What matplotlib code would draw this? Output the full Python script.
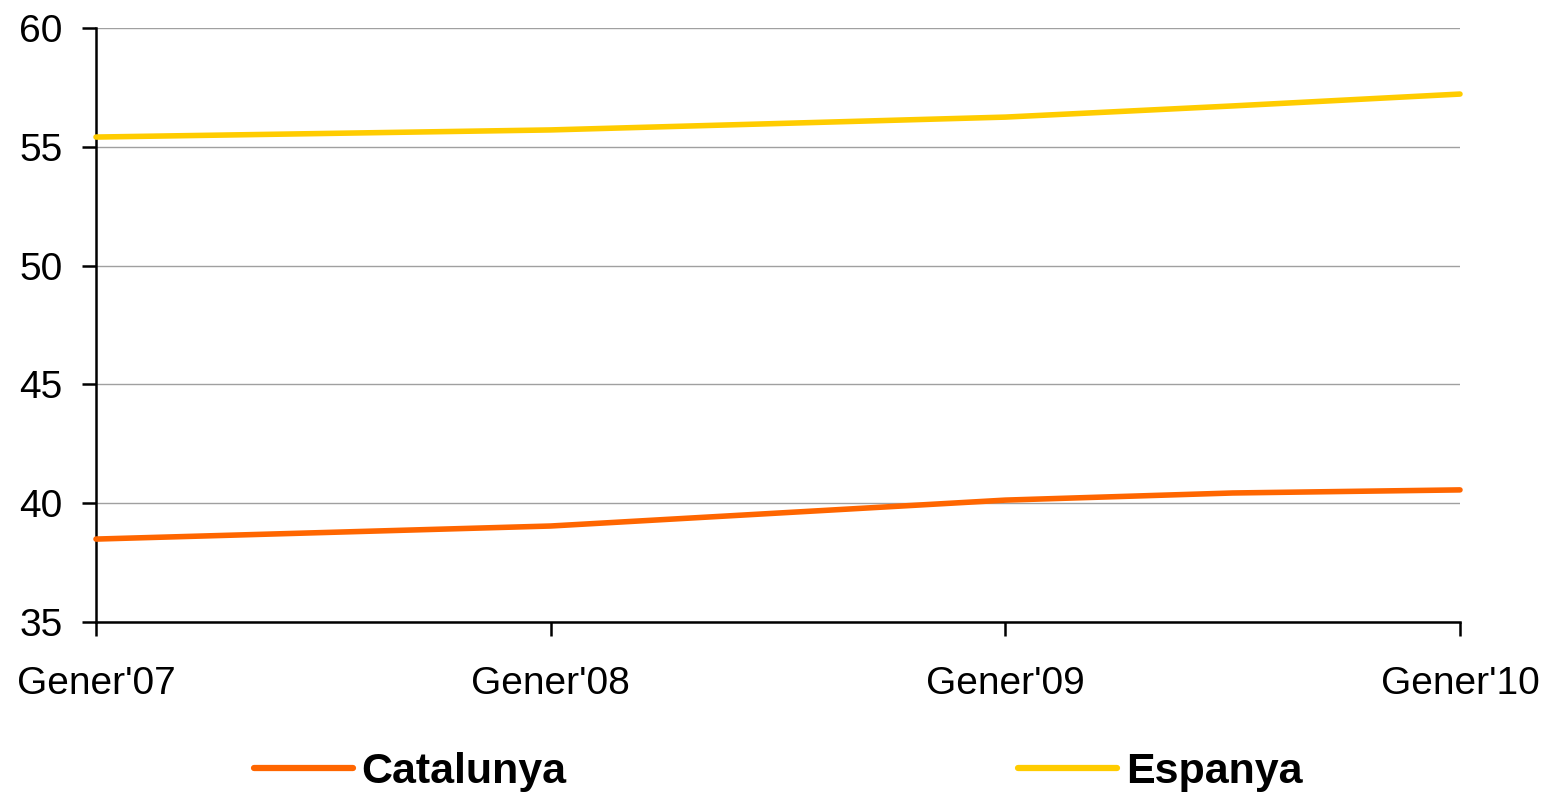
import matplotlib
matplotlib.use("Agg")
import matplotlib.pyplot as plt

plt.rcParams['font.family'] = ['Liberation Sans', 'DejaVu Sans']

x_pos = [0, 1, 2, 2.5, 3]
tick_pos = [0, 1, 2, 3]
tick_labels = ["Gener'07", "Gener'08", "Gener'09", "Gener'10"]
catalunya = [38.49, 39.04, 40.13, 40.43, 40.56]
espanya = [55.41, 55.71, 56.25, 56.72, 57.22]
series_names = ["Catalunya", "Espanya"]

fig = plt.figure(figsize=(15.47, 7.95), dpi=100)
ax = fig.add_axes([96/1547, 1-622/795, (1460-96)/1547, (622-28)/795])

l1, = ax.plot(x_pos, catalunya, color='#FF6600', lw=4, solid_capstyle='round', clip_on=False, zorder=3)
l2, = ax.plot(x_pos, espanya, color='#FFCC00', lw=4, solid_capstyle='round', clip_on=False, zorder=3)

ax.set_xlim(0, 3)
ax.set_ylim(35, 60)
ax.set_yticks([35, 40, 45, 50, 55, 60])
ax.set_xticks(tick_pos)
ax.set_xticklabels(tick_labels)
ax.yaxis.grid(True, color='#a0a0a0', lw=1)
ax.set_axisbelow(True)
for s in ['top', 'right']:
    ax.spines[s].set_visible(False)
for s in ['left', 'bottom']:
    ax.spines[s].set_linewidth(1.8)
ax.tick_params(axis='y', labelsize=28, length=10, width=1.8, pad=14)
ax.tick_params(axis='x', labelsize=28, length=10, width=1.8, pad=22)

leg_x = [254/1547, 1018/1547]
for line, name, lx in zip([l1, l2], series_names, leg_x):
    leg = fig.legend([line], [name], loc='center left', bbox_to_anchor=(lx, 1-772/795),
                     frameon=False, handlelength=2.3, handletextpad=0.2,
                     borderpad=0, borderaxespad=0,
                     prop={'weight': 'bold', 'size': 31})
    for h in leg.get_lines():
        h.set_linewidth(4.5)
        h.set_solid_capstyle('round')

fig.savefig("out.png", dpi=100)
